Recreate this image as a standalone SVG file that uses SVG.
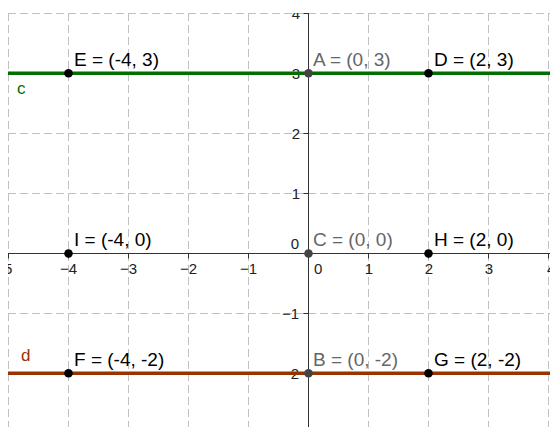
<svg xmlns="http://www.w3.org/2000/svg" width="550" height="427" viewBox="0 0 550 427">
<style>
.grid{stroke:#c0c0c0;stroke-width:1;stroke-dasharray:8,4;fill:none}
.axis{stroke:#333;stroke-width:1;fill:none}
.tl{font-family:"Liberation Sans",Arial,sans-serif;font-size:15px;fill:#222}
.pl{font-family:"Liberation Sans",Arial,sans-serif;font-size:19px;fill:#000}
.pg{fill:#666}
.pt{fill:#000}
.ptg{fill:#444}
</style>
<defs>
<clipPath id="view"><rect x="8" y="13" width="542" height="414"/></clipPath>
</defs>
<rect x="0" y="0" width="550" height="427" fill="#fff"/>
<g clip-path="url(#view)">
<g id="grid">
<path class="grid" d="M8.5 13V427M68.5 13V427M128.5 13V427M188.5 13V427M248.5 13V427M368.5 13V427M428.5 13V427M488.5 13V427M548.5 13V427"/>
<path class="grid" d="M8 13.5H550M8 73.5H550M8 133.5H550M8 193.5H550M8 313.5H550M8 373.5H550"/>
</g>
<g id="axes">
<path class="axis" d="M8 253.5H550M308.5 13V427"/>
<path class="axis" d="M8.5 253.5v5M68.5 253.5v5M128.5 253.5v5M188.5 253.5v5M248.5 253.5v5M368.5 253.5v5M428.5 253.5v5M488.5 253.5v5M548.5 253.5v5"/>
<path class="axis" d="M303.5 13.5h5M303.5 73.5h5M303.5 133.5h5M303.5 193.5h5M303.5 313.5h5M303.5 373.5h5"/>
<text class="tl" x="4" y="274">5</text>
<text class="tl" x="68.5" y="274" text-anchor="middle">−4</text>
<text class="tl" x="128.5" y="274" text-anchor="middle">−3</text>
<text class="tl" x="188.5" y="274" text-anchor="middle">−2</text>
<text class="tl" x="248.5" y="274" text-anchor="middle">−1</text>
<text class="tl" x="314" y="274">0</text>
<text class="tl" x="369" y="274" text-anchor="middle">1</text>
<text class="tl" x="429" y="274" text-anchor="middle">2</text>
<text class="tl" x="489" y="274" text-anchor="middle">3</text>
<text class="tl" x="547" y="274">4</text>
<text class="tl" x="300" y="19" text-anchor="end">4</text>
<text class="tl" x="300" y="79" text-anchor="end">3</text>
<text class="tl" x="300" y="139" text-anchor="end">2</text>
<text class="tl" x="300" y="199" text-anchor="end">1</text>
<text class="tl" x="299" y="249" text-anchor="end">0</text>
<text class="tl" x="299" y="319" text-anchor="end">−1</text>
<text class="tl" x="299" y="379" text-anchor="end">−2</text>
</g>
<g id="connectors">
<g id="line-c">
<path d="M8 73.3H550" stroke="#006f00" stroke-width="3.5"/>
<text x="17" y="94" font-family="Liberation Sans, Arial, sans-serif" font-size="17" fill="#006f00">c</text>
</g>
<g id="line-d">
<path d="M8 373.3H550" stroke="#993300" stroke-width="3.5"/>
<text x="21" y="361" font-family="Liberation Sans, Arial, sans-serif" font-size="17" fill="#993300">d</text>
</g>
</g>
</g>
<g id="E"><circle class="pt" cx="68.5" cy="73.3" r="4.3"/><text class="pl" x="74" y="66">E = (-4, 3)</text></g>
<g id="A"><circle class="ptg" cx="308.5" cy="73.3" r="4.3"/><text class="pl pg" x="313" y="66">A = (0, 3)</text></g>
<g id="D"><circle class="pt" cx="428.5" cy="73.3" r="4.3"/><text class="pl" x="434" y="66">D = (2, 3)</text></g>
<g id="I"><circle class="pt" cx="68.5" cy="253.5" r="4.3"/><text class="pl" x="74" y="246">I = (-4, 0)</text></g>
<g id="C"><circle class="ptg" cx="308.5" cy="253.5" r="4.3"/><text class="pl pg" x="313" y="246">C = (0, 0)</text></g>
<g id="H"><circle class="pt" cx="428.5" cy="253.5" r="4.3"/><text class="pl" x="434" y="246">H = (2, 0)</text></g>
<g id="F"><circle class="pt" cx="68.5" cy="373.3" r="4.3"/><text class="pl" x="74" y="366">F = (-4, -2)</text></g>
<g id="B"><circle class="ptg" cx="308.5" cy="373.3" r="4.3"/><text class="pl pg" x="313" y="366">B = (0, -2)</text></g>
<g id="G"><circle class="pt" cx="428.5" cy="373.3" r="4.3"/><text class="pl" x="434" y="366">G = (2, -2)</text></g>
</svg>
